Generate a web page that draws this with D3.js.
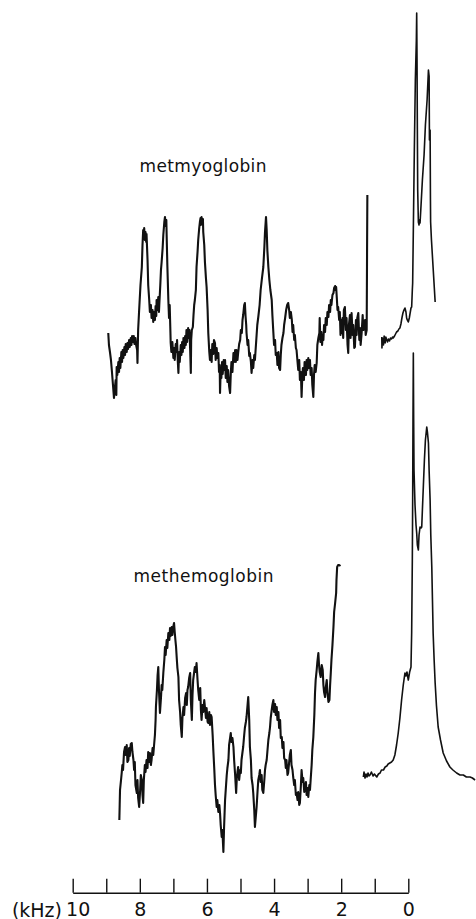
<!DOCTYPE html>
<html>
<head>
<meta charset="utf-8">
<script src="https://cdn.jsdelivr.net/npm/d3@7"></script>
<style>
  body { margin: 0; background: #fff; }
  svg { display: block; }
  .trace { fill: none; stroke: #111; stroke-linejoin: round; }
  .label { font-family: "DejaVu Sans", sans-serif; fill: #111; }
  .axis path, .axis line { stroke: #111; stroke-width: 1.4; }
  .axis text { font-family: "DejaVu Sans", sans-serif; font-size: 19px; fill: #111; }
</style>
</head>
<body>
<div id="chart"></div>
<script>
// [frequency offset (kHz), intensity (a.u.)]
var metmyoWide = [
  [8.94,67],[8.92,55],[8.89,48],[8.86,40],[8.83,28],[8.80,15],[8.77,2],[8.75,10],[8.72,20],[8.70,5],
  [8.69,33],[8.67,25],[8.64,38],[8.62,28],[8.60,42],[8.58,32],[8.55,48],[8.53,38],[8.51,50],[8.49,42],
  [8.46,53],[8.44,45],[8.42,56],[8.39,48],[8.37,57],[8.35,51],[8.32,60],[8.30,53],[8.27,62],[8.25,55],
  [8.23,64],[8.20,58],[8.18,64],[8.16,56],[8.13,62],[8.11,55],[8.08,50],[8.07,37],[8.05,70],[8.02,90],
  [7.98,115],[7.94,133],[7.92,155],[7.90,170],[7.88,165],[7.87,172],[7.85,160],[7.83,168],[7.81,158],[7.80,166],
  [7.77,140],[7.75,115],[7.72,100],[7.70,88],[7.67,95],[7.65,82],[7.62,90],[7.60,78],[7.58,88],[7.55,80],
  [7.53,94],[7.51,84],[7.50,100],[7.47,90],[7.45,103],[7.43,88],[7.42,95],[7.39,115],[7.37,130],[7.35,138],
  [7.32,152],[7.30,165],[7.27,178],[7.25,183],[7.23,174],[7.21,180],[7.20,164],[7.18,135],[7.15,100],[7.13,82],
  [7.11,95],[7.09,70],[7.08,57],[7.06,48],[7.03,58],[7.00,42],[6.98,52],[6.96,40],[6.93,56],[6.91,48],
  [6.89,60],[6.87,40],[6.85,27],[6.83,48],[6.81,38],[6.78,55],[6.76,45],[6.74,58],[6.72,48],[6.70,62],
  [6.67,52],[6.65,64],[6.63,55],[6.61,70],[6.59,58],[6.56,72],[6.54,62],[6.52,70],[6.50,50],[6.48,27],
  [6.47,60],[6.45,70],[6.42,73],[6.40,85],[6.38,95],[6.36,100],[6.33,110],[6.31,133],[6.28,148],[6.26,160],
  [6.23,172],[6.21,178],[6.19,182],[6.18,175],[6.16,183],[6.14,176],[6.12,181],[6.11,168],[6.08,155],[6.06,138],
  [6.03,122],[6.01,113],[5.98,90],[5.96,67],[5.93,48],[5.91,40],[5.88,50],[5.86,38],[5.84,56],[5.81,46],
  [5.79,60],[5.76,57],[5.74,40],[5.71,52],[5.69,42],[5.66,47],[5.64,28],[5.62,35],[5.61,7],[5.59,30],
  [5.57,22],[5.55,38],[5.53,26],[5.50,40],[5.48,30],[5.46,40],[5.44,22],[5.41,34],[5.39,18],[5.37,30],
  [5.34,14],[5.31,7],[5.29,26],[5.27,38],[5.24,28],[5.21,47],[5.19,38],[5.16,50],[5.14,38],[5.12,50],
  [5.09,40],[5.07,47],[5.04,56],[5.01,60],[4.99,70],[4.96,67],[4.94,80],[4.92,85],[4.89,95],[4.87,97],
  [4.85,84],[4.83,75],[4.82,67],[4.79,55],[4.77,60],[4.74,44],[4.72,47],[4.69,38],[4.67,27],[4.64,40],
  [4.62,32],[4.59,45],[4.57,40],[4.54,55],[4.52,65],[4.50,75],[4.47,83],[4.43,95],[4.40,110],[4.36,122],
  [4.32,133],[4.29,152],[4.27,168],[4.25,178],[4.24,183],[4.22,170],[4.20,150],[4.17,133],[4.14,120],[4.11,110],
  [4.07,100],[4.05,85],[4.02,67],[4.00,55],[3.97,60],[3.95,45],[3.92,47],[3.90,35],[3.87,48],[3.85,32],
  [3.82,30],[3.80,45],[3.78,55],[3.75,62],[3.72,67],[3.70,75],[3.67,82],[3.64,90],[3.61,95],[3.58,97],
  [3.55,90],[3.53,82],[3.50,88],[3.47,80],[3.45,68],[3.43,75],[3.40,60],[3.38,65],[3.35,52],[3.33,50],
  [3.30,38],[3.28,30],[3.25,40],[3.23,20],[3.20,28],[3.18,3],[3.16,22],[3.14,32],[3.11,20],[3.09,38],
  [3.08,33],[3.05,25],[3.03,40],[3.01,30],[2.98,42],[2.96,32],[2.93,40],[2.91,25],[2.88,32],[2.86,15],
  [2.83,3],[2.81,25],[2.79,35],[2.76,28],[2.73,37],[2.71,55],[2.68,62],[2.65,67],[2.64,82],[2.62,58],
  [2.59,68],[2.57,55],[2.55,65],[2.53,60],[2.51,75],[2.48,68],[2.46,82],[2.43,75],[2.41,88],[2.38,83],
  [2.36,95],[2.33,88],[2.31,100],[2.29,95],[2.26,105],[2.23,107],[2.21,112],[2.18,114],[2.17,110],[2.15,113],
  [2.13,102],[2.11,90],[2.09,93],[2.06,80],[2.04,88],[2.02,65],[2.00,80],[1.98,67],[1.96,82],[1.94,62],
  [1.92,90],[1.89,93],[1.86,70],[1.84,82],[1.81,55],[1.79,47],[1.77,75],[1.74,85],[1.72,62],[1.69,87],
  [1.66,65],[1.64,75],[1.61,52],[1.59,53],[1.56,80],[1.54,65],[1.52,82],[1.49,87],[1.46,60],[1.44,72],
  [1.42,55],[1.39,67],[1.36,85],[1.34,70],[1.31,78],[1.29,80],[1.27,65],[1.24,70],[1.23,140],[1.22,205]
];

var metmyoCentre = [
  [0.79,63],[0.785,52],[0.77,62],[0.74,55],[0.72,64],[0.69,57],[0.67,63],[0.64,60],[0.62,58],[0.59,61],
  [0.56,59],[0.53,62],[0.50,61],[0.47,63],[0.45,62],[0.41,64],[0.38,66],[0.35,68],[0.31,69],[0.28,71],
  [0.25,72],[0.22,76],[0.19,82],[0.16,87],[0.15,88],[0.13,90],[0.10,92],[0.07,88],[0.05,82],[0.03,80],
  [0.00,78],[-0.03,82],[-0.05,86],[-0.08,92],[-0.10,93],[-0.12,110],[-0.13,117],[-0.15,170],[-0.18,250],[-0.21,320],
  [-0.24,360],[-0.25,387],[-0.26,340],[-0.27,270],[-0.28,210],[-0.30,178],[-0.32,175],[-0.33,180],[-0.35,177],[-0.38,195],
  [-0.42,220],[-0.47,245],[-0.51,275],[-0.56,300],[-0.60,330],[-0.62,324],[-0.63,260],[-0.65,270],[-0.66,200],[-0.665,178],
  [-0.69,160],[-0.74,132],[-0.80,98]
];

var methemoWide = [
  [8.61,40],[8.60,55],[8.59,70],[8.56,80],[8.54,87],[8.52,95],[8.50,90],[8.47,108],[8.44,113],[8.42,105],
  [8.39,115],[8.37,98],[8.34,100],[8.32,112],[8.30,104],[8.27,116],[8.24,117],[8.22,108],[8.19,100],[8.17,90],
  [8.15,98],[8.13,75],[8.09,67],[8.07,80],[8.05,62],[8.02,53],[7.99,70],[7.97,85],[7.94,80],[7.92,65],
  [7.90,57],[7.88,80],[7.85,95],[7.83,88],[7.80,100],[7.77,92],[7.75,108],[7.72,98],[7.70,107],[7.67,95],
  [7.65,100],[7.62,112],[7.60,105],[7.58,113],[7.55,125],[7.53,140],[7.52,153],[7.49,170],[7.47,185],[7.45,193],
  [7.43,170],[7.40,147],[7.37,162],[7.35,175],[7.33,170],[7.30,187],[7.27,200],[7.25,213],[7.23,205],[7.20,220],
  [7.18,212],[7.15,227],[7.12,220],[7.10,232],[7.08,224],[7.05,233],[7.03,225],[7.01,232],[6.98,237],[6.96,228],
  [6.94,220],[6.92,213],[6.90,202],[6.88,192],[6.85,183],[6.83,160],[6.80,148],[6.78,135],[6.75,123],[6.73,142],
  [6.70,153],[6.68,145],[6.65,162],[6.62,167],[6.60,155],[6.58,170],[6.56,173],[6.53,182],[6.50,187],[6.48,160],
  [6.45,140],[6.43,165],[6.41,180],[6.38,188],[6.36,193],[6.33,188],[6.31,197],[6.28,180],[6.26,170],[6.23,160],
  [6.20,172],[6.18,150],[6.16,140],[6.13,155],[6.11,148],[6.08,160],[6.06,153],[6.03,142],[6.01,152],[5.98,138],
  [5.96,137],[5.93,148],[5.91,135],[5.88,145],[5.86,143],[5.83,125],[5.81,110],[5.78,90],[5.76,75],[5.74,65],
  [5.71,53],[5.69,60],[5.66,48],[5.63,55],[5.61,47],[5.59,35],[5.56,23],[5.54,30],[5.51,8],[5.49,32],
  [5.46,60],[5.44,70],[5.41,85],[5.39,92],[5.36,100],[5.34,115],[5.31,122],[5.29,127],[5.27,118],[5.24,122],
  [5.21,113],[5.19,100],[5.16,85],[5.13,67],[5.11,82],[5.09,88],[5.07,93],[5.04,80],[5.01,90],[4.99,87],
  [4.97,100],[4.94,108],[4.92,113],[4.89,125],[4.87,132],[4.84,138],[4.82,143],[4.79,155],[4.77,163],[4.74,140],
  [4.72,113],[4.69,100],[4.67,82],[4.64,75],[4.62,67],[4.59,50],[4.57,33],[4.54,45],[4.52,53],[4.49,70],
  [4.47,80],[4.44,85],[4.42,90],[4.40,78],[4.37,85],[4.35,70],[4.32,67],[4.29,80],[4.27,90],[4.25,95],
  [4.22,100],[4.20,108],[4.17,120],[4.14,127],[4.12,133],[4.10,142],[4.07,150],[4.05,155],[4.02,160],[4.00,148],
  [3.97,156],[3.95,145],[3.92,153],[3.90,140],[3.87,148],[3.85,132],[3.82,140],[3.80,122],[3.77,123],[3.75,112],
  [3.72,118],[3.70,102],[3.67,100],[3.65,92],[3.63,100],[3.60,85],[3.58,87],[3.55,98],[3.53,105],[3.50,110],
  [3.48,95],[3.45,90],[3.43,83],[3.40,75],[3.38,80],[3.35,65],[3.33,67],[3.30,60],[3.28,68],[3.25,55],
  [3.23,57],[3.20,75],[3.18,90],[3.15,78],[3.13,82],[3.10,68],[3.08,70],[3.05,78],[3.03,65],[3.00,72],
  [2.98,63],[2.95,75],[2.93,70],[2.91,80],[2.88,95],[2.86,110],[2.83,123],[2.80,145],[2.78,167],[2.76,180],
  [2.73,190],[2.71,198],[2.68,207],[2.66,195],[2.64,188],[2.61,183],[2.58,195],[2.55,190],[2.53,175],[2.51,168],
  [2.48,163],[2.46,172],[2.43,180],[2.41,168],[2.38,158],[2.35,160],[2.33,175],[2.31,187],[2.29,200],[2.26,215],
  [2.23,233],[2.21,248],[2.18,257],[2.15,267],[2.14,280],[2.12,293],[2.09,295],[2.06,295],[2.02,294]
];

var methemoCentre = [
  [1.34,83],[1.32,88],[1.29,82],[1.26,86],[1.23,83],[1.20,87],[1.17,84],[1.14,85],[1.10,88],[1.05,84],
  [1.01,86],[0.94,83],[0.89,86],[0.84,87],[0.80,90],[0.74,90],[0.69,93],[0.64,94],[0.60,96],[0.55,97],
  [0.50,98],[0.45,100],[0.40,105],[0.35,115],[0.30,127],[0.25,142],[0.20,160],[0.15,175],[0.10,187],[0.07,184],
  [0.04,188],[0.00,180],[-0.04,188],[-0.08,193],[-0.10,227],[-0.12,300],[-0.13,360],[-0.14,440],[-0.15,507],[-0.16,440],
  [-0.17,390],[-0.20,355],[-0.23,335],[-0.25,327],[-0.27,315],[-0.30,310],[-0.32,325],[-0.35,333],[-0.38,332],[-0.40,333],
  [-0.42,350],[-0.45,375],[-0.48,400],[-0.51,420],[-0.55,433],[-0.57,428],[-0.60,417],[-0.62,390],[-0.65,360],[-0.67,325],
  [-0.70,293],[-0.72,260],[-0.74,227],[-0.77,200],[-0.80,177],[-0.84,154],[-0.89,133],[-0.96,120],[-1.04,107],[-1.14,99],
  [-1.24,93],[-1.33,90],[-1.44,87],[-1.54,85],[-1.64,85],[-1.73,83],[-1.84,83],[-1.91,82],[-1.99,80]
];

var tickValues = [10, 9, 8, 7, 6, 5, 4, 3, 2, 1, 0];
var sampleNames = ['metmyoglobin', 'methemoglobin'];

var width = 476,
    height = 919;

var x = d3.scaleLinear().domain([10, 0]).range([72.7, 408.3]),
    yTop = d3.scaleLinear().domain([0, 400]).range([400, 0]),
    yBot = d3.scaleLinear().domain([0, 500]).range([860, 360]);

var svg = d3.select('#chart')
  .append('svg')
    .attr('width', width)
    .attr('height', height);

function traceFor(y) {
  return d3.line()
    .x(function(d) { return x(d[0]); })
    .y(function(d) { return y(d[1]); });
}

svg.append('path').datum(metmyoWide).attr('class', 'trace')
  .attr('stroke-width', 2.1).attr('d', traceFor(yTop));
svg.append('path').datum(metmyoCentre).attr('class', 'trace')
  .attr('stroke-width', 1.6).attr('d', traceFor(yTop));
svg.append('path').datum(methemoWide).attr('class', 'trace')
  .attr('stroke-width', 2.1).attr('d', traceFor(yBot));
svg.append('path').datum(methemoCentre).attr('class', 'trace')
  .attr('stroke-width', 1.6).attr('d', traceFor(yBot));

svg.append('text').attr('class', 'label')
  .attr('x', 139.5).attr('y', 171.5)
  .attr('font-size', 17)
  .attr('textLength', 127).attr('lengthAdjust', 'spacing')
  .text(sampleNames[0]);

svg.append('text').attr('class', 'label')
  .attr('x', 133.5).attr('y', 582)
  .attr('font-size', 17)
  .attr('textLength', 140).attr('lengthAdjust', 'spacing')
  .text(sampleNames[1]);

var xAxis = d3.axisBottom(x)
  .tickValues(tickValues)
  .tickSize(-14)
  .tickSizeOuter(0)
  .tickPadding(10)
  .tickFormat(function(d) { return d % 2 === 0 ? d : ''; });

var axis = svg.append('g')
  .attr('class', 'axis')
  .attr('transform', 'translate(0,892.7)')
  .call(xAxis);

axis.selectAll('.tick')
  .filter(function(d) { return d === 10; })
  .select('text')
    .attr('x', 5);

svg.append('text').attr('class', 'label')
  .attr('x', 62).attr('y', 916.5)
  .attr('font-size', 19)
  .attr('text-anchor', 'end')
  .text('(kHz)');
</script>
</body>
</html>
